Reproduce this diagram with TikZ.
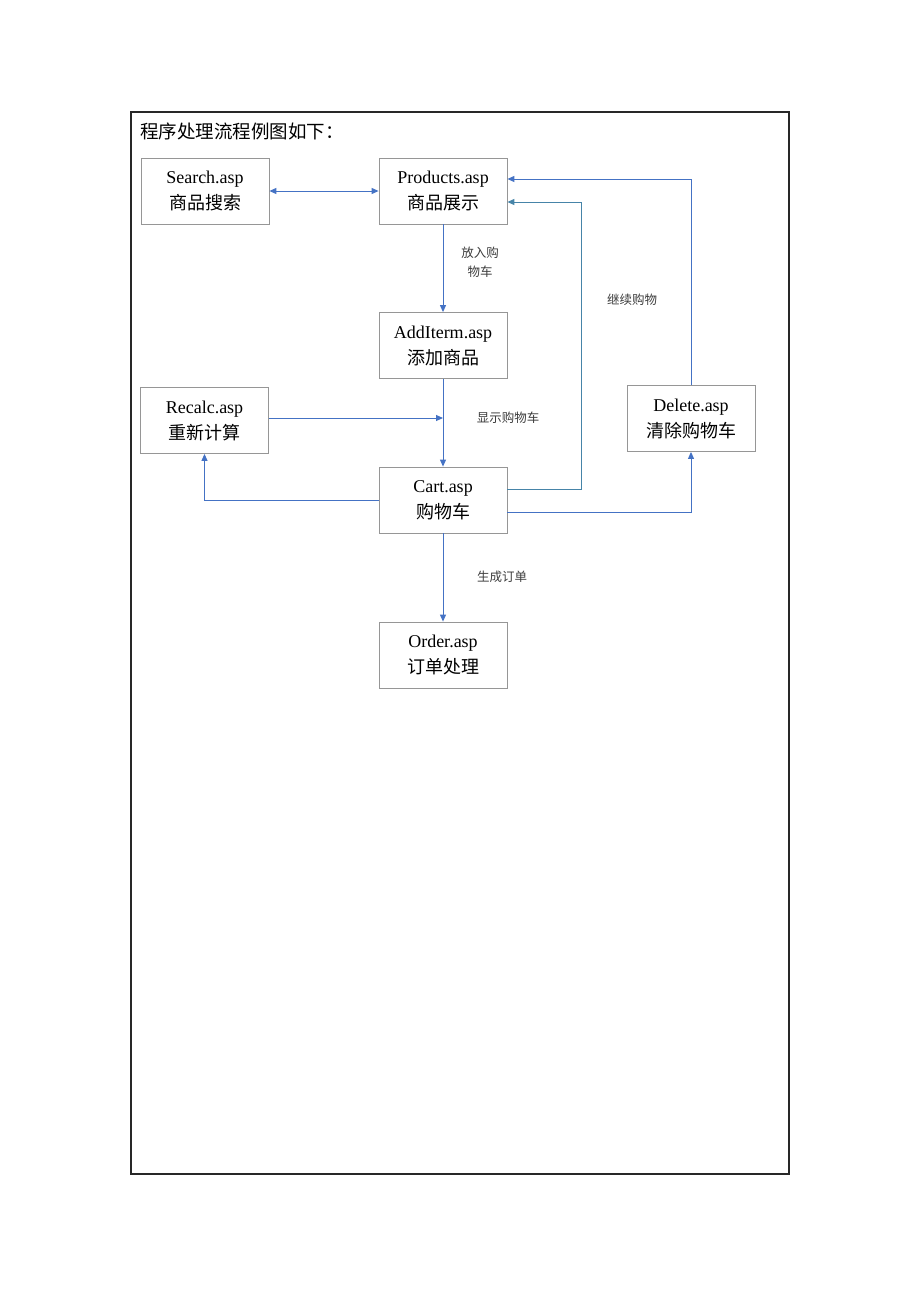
\documentclass[tikz,border=0pt]{standalone}
\usepackage{fontspec}
\setmainfont{Liberation Serif}
\newfontfamily\cjk{Noto Sans CJK SC}
\usetikzlibrary{arrows.meta}

\definecolor{flowblue}{RGB}{68,114,196}
\definecolor{flowteal}{RGB}{70,132,168}
\definecolor{boxgray}{RGB}{150,150,150}

\tikzset{every picture/.style={line width=0.75pt}}
\tikzset{
  pagebox/.style={draw={rgb,255:red,40;green,40;blue,40},line width=1.6pt},
  aspbox/.style={draw=boxgray,line width=0.8pt,minimum width=128pt,minimum height=66pt,align=center,
    font=\fontsize{18}{26}\selectfont,inner sep=0pt},
  flow/.style={draw=flowblue,line width=1pt,-{Triangle[length=7pt,width=6pt]}},
  flowboth/.style={draw=flowblue,line width=1pt,{Triangle[length=7pt,width=6pt]}-{Triangle[length=7pt,width=6pt]}},
  flowback/.style={draw=flowteal,line width=1pt,-{Triangle[length=7pt,width=6pt]}},
  note/.style={font=\cjk\fontsize{12.5}{19}\selectfont,text={rgb,255:red,60;green,60;blue,60},align=center,inner sep=0pt}
}

\begin{document}
\begin{tikzpicture}[x=1pt,y=1pt,yscale=-1,xscale=1]
\useasboundingbox (0,0) rectangle (920,1302);

%Shape: Rectangle
\draw[pagebox] (131,112) rectangle (789,1174);
% Text Node
\node[anchor=west,inner sep=0pt,font=\cjk\fontsize{18.5}{20}\selectfont] (title) at (140,131) {程序处理流程例图如下：};

%Shape: Rectangle
\node[aspbox] (search) at (205,191) {Search.asp\\{\cjk 商品搜索}};
\node[aspbox] (products) at (443,191) {Products.asp\\{\cjk 商品展示}};
\node[aspbox] (additerm) at (443,345.5) {AddIterm.asp\\{\cjk 添加商品}};
\node[aspbox] (recalc) at (204.5,420.5) {Recalc.asp\\{\cjk 重新计算}};
\node[aspbox] (delete) at (691,418.5) {Delete.asp\\{\cjk 清除购物车}};
\node[aspbox] (cart) at (443,500) {Cart.asp\\{\cjk 购物车}};
\node[aspbox] (order) at (443,655) {Order.asp\\{\cjk 订单处理}};

%Straight Lines
\draw[flowboth] (search.east) -- (products.west);
\draw[flow] (products) -- (additerm);
\draw[flow] (additerm) -- (cart);
\coordinate (recalcin) at (443,418);
\draw[flow] (recalc.east |- recalcin) -- (recalcin);
\draw[flow] (cart.west) -| (recalc.south);
\draw[flow] (cart) -- (order);

%Curve Lines
\coordinate (contturn) at (581,489);
\draw[flowback] ([yshift=-11pt]cart.east) -- (contturn) |- ([yshift=11pt]products.east);
\draw[flow] (delete.north) |- ([yshift=-12pt]products.east);
\draw[flow] ([yshift=12pt]cart.east) -| (delete.south);

% Text Node
\node[note] (putcart) at (480,262.5) {放入购\\物车};
\node[note] (goon) at (632,300) {继续购物};
\node[note] (showcart) at (508,418) {显示购物车};
\node[note] (mkorder) at (502,577) {生成订单};

\end{tikzpicture}
\end{document}
